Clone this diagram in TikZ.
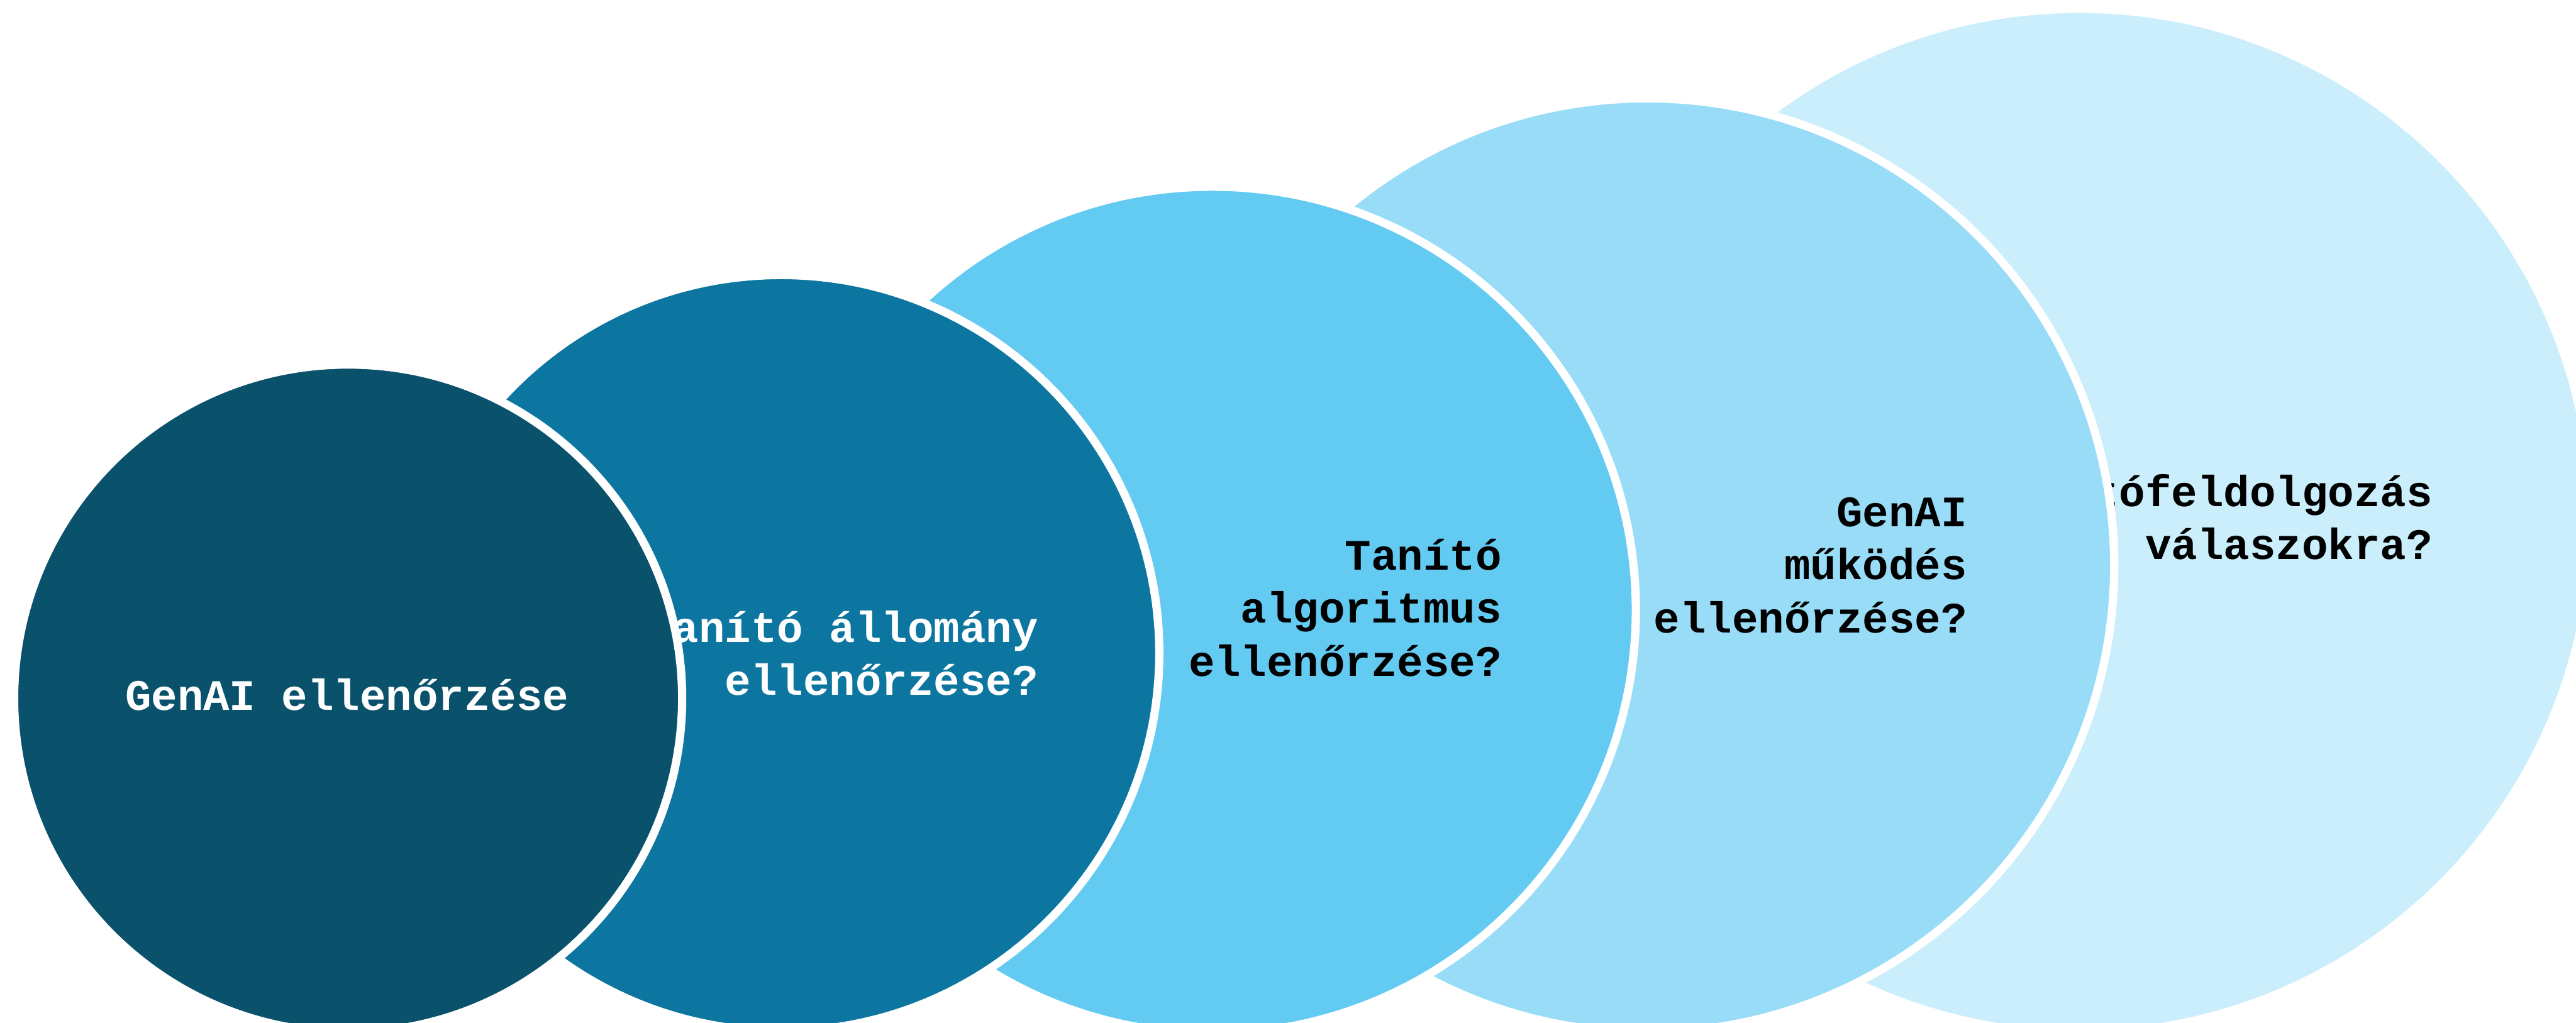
\documentclass[tikz,border=0pt]{standalone}
\usepackage{fontspec}
\setmonofont{Liberation Mono}

\definecolor{stepone}{RGB}{10,81,107}
\definecolor{steptwo}{RGB}{12,118,160}
\definecolor{stepthree}{RGB}{99,202,242}
\definecolor{stepfour}{RGB}{153,220,247}
\definecolor{stepfive}{RGB}{202,238,251}

\tikzset{
	disc/.style={circle,draw=white,line width=1.4mm,inner sep=0pt,minimum size=#1},
	disctext/.style={font=\ttfamily\bfseries\fontsize{21}{25.6}\selectfont,align=right,anchor=east,inner sep=0pt}
}

\begin{document}
\begin{tikzpicture}
	\clip (0,0) rectangle (43.73,17.37);
	% back to front, each disc hides the text of the one behind
	\node[disc=17.40cm,fill=stepfive] (c5) at (35.30,8.52) {};
	\node[disctext,text=black] (t5) at (41.30,8.59) {Utófeldolgozás\\válaszokra?};
	\node[disc=15.86cm,fill=stepfour] (c4) at (27.96,7.77) {};
	\node[disctext,text=black] (t4) at (33.40,7.77) {GenAI\\működés\\ellenőrzése?};
	\node[disc=14.38cm,fill=stepthree] (c3) at (20.58,7.01) {};
	\node[disctext,text=black] (t3) at (25.50,7.05) {Tanító\\algoritmus\\ellenőrzése?};
	\node[disc=12.84cm,fill=steptwo] (c2) at (13.26,6.28) {};
	\node[disctext,text=white] (t2) at (17.63,6.28) {Tanító állomány\\ellenőrzése?};
	\node[disc=11.34cm,fill=stepone] (c1) at (5.91,5.51) {};
	\node[disctext,text=white,anchor=base] (t1) at (5.89,5.31) {GenAI ellenőrzése};
\end{tikzpicture}
\end{document}
